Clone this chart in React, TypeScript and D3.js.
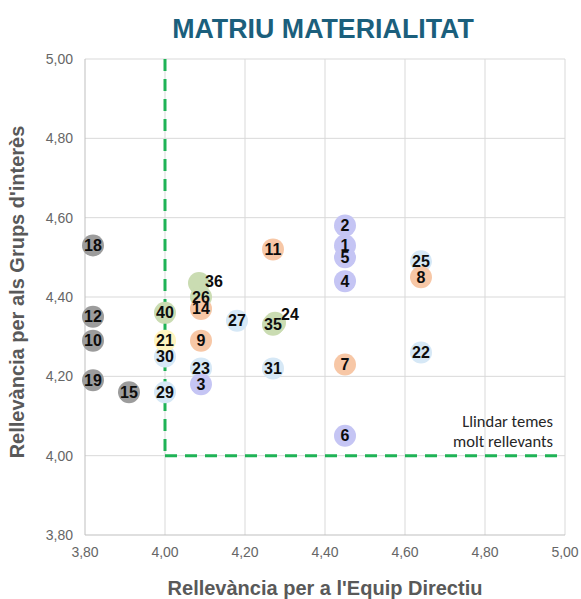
import * as d3 from "d3";
import { useEffect, useRef } from "react";

// issue ids, x = relevance for management team, y = relevance for stakeholders
const ids = ["18", "12", "10", "19", "15", "29", "30", "27", "23", "31", "25", "22", "21", "40", "36", "26", "35", "24", "14", "9", "11", "7", "8", "3", "2", "1", "5", "4", "6"];
const xValues = [3.82, 3.82, 3.82, 3.82, 3.91, 4.0, 4.0, 4.18, 4.09, 4.27, 4.64, 4.64, 4.0, 4.0, 4.085, 4.09, 4.27, 4.275, 4.09, 4.09, 4.27, 4.45, 4.64, 4.09, 4.45, 4.45, 4.45, 4.45, 4.45];
const yValues = [4.53, 4.35, 4.29, 4.19, 4.16, 4.16, 4.25, 4.34, 4.22, 4.22, 4.49, 4.26, 4.29, 4.36, 4.435, 4.4, 4.33, 4.335, 4.37, 4.29, 4.52, 4.23, 4.45, 4.18, 4.58, 4.53, 4.5, 4.44, 4.05];
const groups = ["gris", "gris", "gris", "gris", "gris", "blau", "blau", "blau", "blau", "blau", "blau", "blau", "groc", "verd", "verd", "verd", "verd", "verd", "taronja", "taronja", "taronja", "taronja", "taronja", "lila", "lila", "lila", "lila", "lila", "lila"];
const groupOrder = ["gris", "blau", "groc", "verd", "taronja", "lila"];
const groupColors = ["#9c9c9c", "#d6e8f6", "#fff5c0", "#cadcb2", "#f7c7a6", "#c5c5f4"];
const ticks = [3.8, 4.0, 4.2, 4.4, 4.6, 4.8, 5.0];
const threshold = 4.0;

const App = () => {
  const ref = useRef<SVGSVGElement | null>(null);

  useEffect(() => {
    document.body.style.margin = "0";
    const width = 581;
    const height = 599;
    const margin = { top: 59, right: 16, bottom: 64, left: 85 };
    const svg = d3.select(ref.current);
    svg.selectAll("*").remove();

    const x = d3.scaleLinear().domain([3.8, 5]).range([margin.left, width - margin.right]);
    const y = d3.scaleLinear().domain([3.8, 5]).range([height - margin.bottom, margin.top]);
    const color = d3.scaleOrdinal<string, string>().domain(groupOrder).range(groupColors);
    const fmt = (v: number) => d3.format(".2f")(v).replace(".", ",");
    const font = "Arial, 'Liberation Sans', sans-serif";

    // gridlines
    svg.append("g")
      .selectAll("line.h")
      .data(ticks.slice(1))
      .enter()
      .append("line")
      .attr("x1", x(3.8))
      .attr("x2", x(5))
      .attr("y1", (d) => y(d))
      .attr("y2", (d) => y(d))
      .attr("stroke", "#d9d9d9");
    svg.append("g")
      .selectAll("line.v")
      .data(ticks.slice(1))
      .enter()
      .append("line")
      .attr("x1", (d) => x(d))
      .attr("x2", (d) => x(d))
      .attr("y1", y(3.8))
      .attr("y2", y(5))
      .attr("stroke", "#d9d9d9");

    // axes lines
    svg.append("line")
      .attr("x1", x(3.8)).attr("x2", x(3.8))
      .attr("y1", y(3.8)).attr("y2", y(5))
      .attr("stroke", "#bfbfbf");
    svg.append("line")
      .attr("x1", x(3.8)).attr("x2", x(5))
      .attr("y1", y(3.8)).attr("y2", y(3.8))
      .attr("stroke", "#bfbfbf");

    // tick labels
    svg.append("g")
      .selectAll("text")
      .data(ticks)
      .enter()
      .append("text")
      .attr("x", x(3.8) - 12)
      .attr("y", (d) => y(d) + 5)
      .attr("text-anchor", "end")
      .attr("font-family", font)
      .attr("font-size", 14)
      .attr("fill", "#666")
      .text((d) => fmt(d));
    svg.append("g")
      .selectAll("text")
      .data(ticks)
      .enter()
      .append("text")
      .attr("x", (d) => x(d))
      .attr("y", y(3.8) + 22)
      .attr("text-anchor", "middle")
      .attr("font-family", font)
      .attr("font-size", 14)
      .attr("fill", "#666")
      .text((d) => fmt(d));

    // threshold lines
    svg.append("line")
      .attr("x1", x(threshold)).attr("x2", x(threshold))
      .attr("y1", y(5)).attr("y2", y(threshold))
      .attr("stroke", "#1fb356")
      .attr("stroke-width", 3)
      .attr("stroke-dasharray", "12,8");
    svg.append("line")
      .attr("x1", x(threshold)).attr("x2", x(5) - 8)
      .attr("y1", y(threshold)).attr("y2", y(threshold))
      .attr("stroke", "#1fb356")
      .attr("stroke-width", 3)
      .attr("stroke-dasharray", "12,8");

    const points = ids.map((id, i) => ({ id, x: xValues[i], y: yValues[i], g: groups[i] }));
    points.sort((a, b) => groupOrder.indexOf(a.g) - groupOrder.indexOf(b.g));

    svg.append("g")
      .selectAll("circle")
      .data(points)
      .enter()
      .append("circle")
      .attr("cx", (d) => x(d.x))
      .attr("cy", (d) => y(d.y))
      .attr("r", 11)
      .attr("fill", (d) => color(d.g));

    const labelOffset: { [id: string]: [number, number] } = { "36": [15, -2], "24": [15, -8] };
    svg.append("g")
      .selectAll("text")
      .data(points)
      .enter()
      .append("text")
      .attr("x", (d) => x(d.x) + (labelOffset[d.id]?.[0] ?? 0))
      .attr("y", (d) => y(d.y) + 5.5 + (labelOffset[d.id]?.[1] ?? 0))
      .attr("text-anchor", "middle")
      .attr("font-family", font)
      .attr("font-size", 16)
      .attr("font-weight", "bold")
      .attr("fill", "#0d0d0d")
      .text((d) => d.id);

    // annotation
    const note = svg.append("text")
      .attr("text-anchor", "end")
      .attr("font-family", "Carlito, Calibri, 'Noto Sans', sans-serif")
      .attr("font-size", 16.5)
      .attr("fill", "#262626");
    note.append("tspan").attr("x", x(5) - 12).attr("y", y(threshold) - 29).text("Llindar temes");
    note.append("tspan").attr("x", x(5) - 12).attr("y", y(threshold) - 9).text("molt rellevants");

    // titles
    svg.append("text")
      .attr("x", 323)
      .attr("y", 38)
      .attr("text-anchor", "middle")
      .attr("font-family", font)
      .attr("font-size", 26.8)
      .attr("font-weight", "bold")
      .attr("fill", "#1b5f7c")
      .text("MATRIU MATERIALITAT");
    svg.append("text")
      .attr("x", 325)
      .attr("y", 595)
      .attr("text-anchor", "middle")
      .attr("font-family", font)
      .attr("font-size", 20)
      .attr("font-weight", "bold")
      .attr("fill", "#595959")
      .text("Rellevància per a l'Equip Directiu");
    svg.append("text")
      .attr("transform", `translate(24, 292) rotate(-90)`)
      .attr("text-anchor", "middle")
      .attr("font-family", font)
      .attr("font-size", 20)
      .attr("font-weight", "bold")
      .attr("fill", "#595959")
      .text("Rellevància per als Grups d'interès");
  }, []);

  return <svg ref={ref} width={581} height={599} style={{ display: "block" }} />;
};

export default App;
